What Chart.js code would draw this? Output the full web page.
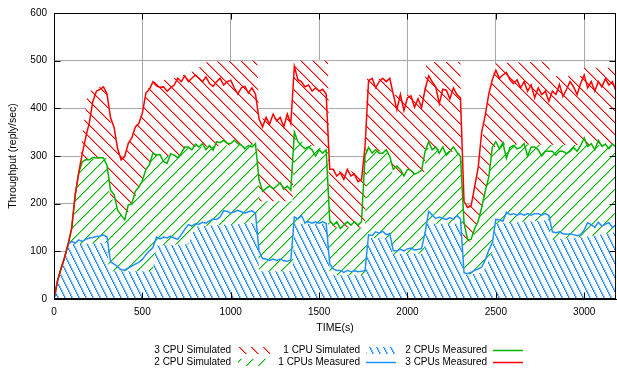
<!DOCTYPE html>
<html><head><meta charset="utf-8">
<script src="https://cdn.jsdelivr.net/npm/chart.js@4.4.0/dist/chart.umd.min.js"></script>
<style>html,body{margin:0;padding:0;background:#fff;}#wrap{width:617px;height:370px;}</style>
</head><body><div id="wrap"><canvas id="c" width="617" height="370"></canvas></div>
<script>
// ---- DATA ----
const times = [
0,20,40,60,80,100,120,140,160,180,
200,220,240,260,280,300,320,340,360,380,
400,420,440,460,480,500,520,540,560,580,
600,620,640,660,680,700,720,740,760,780,
800,820,840,860,880,900,920,940,960,980,
1000,1020,1040,1060,1080,1100,1120,1140,1160,1180,
1200,1220,1240,1260,1280,1300,1320,1340,1360,1380,
1400,1420,1440,1460,1480,1500,1520,1540,1560,1580,
1600,1620,1640,1660,1680,1700,1720,1740,1760,1780,
1800,1820,1840,1860,1880,1900,1920,1940,1960,1980,
2000,2020,2040,2060,2080,2100,2120,2140,2160,2180,
2200,2220,2240,2260,2280,2300,2320,2340,2360,2380,
2400,2420,2440,2460,2480,2500,2520,2540,2560,2580,
2600,2620,2640,2660,2680,2700,2720,2740,2760,2780,
2800,2820,2840,2860,2880,2900,2920,2940,2960,2980,
3000,3020,3040,3060,3080,3100,3120,3140,3160,3180];

const measured3 = [
0,38,64,87,115,148,218,265,305,340,
370,415,436,440,445,430,380,360,315,292,
299,326,338,361,368,390,432,440,456,447,
444,445,436,443,449,463,456,468,456,463,
470,463,456,466,452,446,456,463,449,456,
459,443,430,443,446,432,443,430,378,361,
381,367,388,374,381,361,388,368,488,460,
456,445,449,436,443,436,440,430,272,272,
258,265,251,272,258,262,246,250,320,458,
463,443,456,463,456,463,429,397,429,395,
422,426,402,420,402,440,468,456,445,410,
440,438,420,443,429,422,205,192,195,235,
275,350,385,430,460,480,463,470,475,460,
452,460,443,456,436,449,422,443,429,436,
415,436,429,450,425,440,456,445,429,452,
470,443,456,436,456,445,462,449,456,436];

const measured2 = [
0,38,64,87,115,148,218,265,288,292,
292,297,296,297,296,280,228,219,186,176,
166,197,200,226,235,248,272,282,306,302,
303,288,285,305,302,296,306,319,319,313,
325,319,326,313,322,312,330,328,333,326,
326,333,326,323,315,322,319,326,250,226,
232,237,231,237,244,230,237,228,350,330,
322,315,319,313,300,313,306,313,165,155,
162,148,155,162,155,162,155,162,300,318,
306,313,306,306,313,299,272,279,272,258,
272,270,262,265,270,310,330,313,319,306,
319,302,310,319,308,299,160,124,125,148,
163,192,226,255,318,330,315,328,295,318,
322,315,318,326,300,319,319,313,300,310,
310,310,302,310,310,305,310,318,310,322,
338,320,326,313,333,320,325,315,325,319];

const measured1 = [
0,38,64,87,115,121,117,124,121,125,
128,129,131,132,134,130,78,73,68,61,
61,65,69,73,77,83,93,101,108,130,
126,130,128,132,128,125,135,146,156,153,
158,157,161,159,164,168,167,172,185,184,
180,183,186,183,180,183,185,180,100,85,
84,81,84,81,84,80,79,82,172,168,
175,160,162,159,162,159,162,159,74,63,
60,60,56,60,57,59,57,58,60,135,
133,141,138,142,135,137,101,101,104,101,
105,107,103,104,106,140,184,176,169,172,
169,167,171,167,175,168,55,53,56,60,
63,67,82,102,118,167,166,163,182,177,
179,176,179,176,179,176,179,179,176,179,
175,141,139,141,137,136,137,135,133,135,
145,160,156,150,161,153,157,160,150,156];

const sim3Times = [0,100,140,160,190,300,310,360,390,420,460,500,520,560,700,800,870,1150,1160,1350,1360,1550,1560,1760,1770,1900,1915,2095,2105,2300,2310,2360,2400,2440,2480,2500,2800,2810,2990,3000,3180];
const sim3 = [0,150,265,340,435,450,385,320,292,320,360,390,435,455,465,480,498,500,378,380,500,500,268,268,462,462,428,428,497,497,205,195,262,380,460,495,498,468,468,485,485];

const sim2Times = [0,100,140,160,300,310,360,400,440,480,520,560,700,750,1150,1160,1350,1360,1550,1560,1760,1770,1900,1915,2095,2105,2305,2315,2360,2400,2440,2480,2500,3180];
const sim2 = [0,148,265,292,296,226,185,166,198,232,270,300,300,318,325,205,205,335,312,150,150,315,305,262,262,318,305,125,120,160,220,300,325,322];

const sim1Times = [0,80,100,300,310,560,575,760,800,1150,1160,1350,1360,1550,1560,1765,1775,1900,1915,2095,2105,2305,2315,2420,2440,2480,2495,2800,2810,3000,3180];
const sim1 = [0,108,115,118,58,58,112,115,152,160,58,58,158,158,50,50,128,128,95,95,158,158,50,55,65,100,158,165,125,130,140];

const xTickValues = [0,500,1000,1500,2000,2500,3000];
const yTickValues = [0,100,200,300,400,500,600];

const labels = {
  sim3: '3 CPU Simulated', sim2: '2 CPU Simulated', sim1: '1 CPU Simulated',
  m1: '1 CPUs Measured', m2: '2 CPUs Measured', m3: '3 CPUs Measured'
};
const xAxisTitle = 'TIME(s)';
const yAxisTitle = 'Throughput (reply/sec)';
const xMax = 3180, yMax = 600;

// ---- STYLE ----
const RED = '#ff0000', GREEN = '#00b400', BLUE = '#2090ff';
const FONT = "'Liberation Sans', Arial, sans-serif";

function hatch(rgb, w, h, dir) {
  const c = document.createElement('canvas');
  c.width = w; c.height = h;
  const g = c.getContext('2d');
  g.fillStyle = '#ffffff'; g.fillRect(0, 0, w, h);
  const full = 'rgb(' + rgb.join(',') + ')';
  const soft = 'rgba(' + rgb.join(',') + ',0.45)';
  for (let r = 0; r < h; r++) {
    const xx = Math.floor(r * w / h);
    const px = dir === 'back' ? xx : (w - 1 - xx);
    g.fillStyle = full; g.fillRect(px, r, 1, 1);
    g.fillStyle = soft; g.fillRect((px + 1) % w, r, 1, 1);
  }
  return g.createPattern(c, 'repeat');
}
const patRed = hatch([255, 0, 0], 12, 12, 'back');
const patGreen = hatch([0, 190, 0], 12, 12, 'fwd');
const patBlue = hatch([32, 144, 255], 7, 14, 'back');

const pts = (t, v) => t.map((x, i) => ({x: x, y: v[i]}));

const framePlugin = {
  id: 'frame',
  afterDatasetsDraw(chart) {
    const {ctx, chartArea: a, scales: {x, y}} = chart;
    const L = Math.round(a.left) + 0.5, R = Math.round(a.right) - 0.5;
    const T = Math.round(a.top) + 0.5, B = Math.round(a.bottom) - 0.5;
    ctx.save();
    ctx.strokeStyle = '#000'; ctx.lineWidth = 1;
    ctx.beginPath();
    y.ticks.forEach(t => {
      const p = Math.round(y.getPixelForValue(t.value)) + 0.5;
      ctx.moveTo(L, p); ctx.lineTo(L + 6, p);
      ctx.moveTo(R, p); ctx.lineTo(R - 6, p);
    });
    x.ticks.forEach(t => {
      const p = Math.round(x.getPixelForValue(t.value)) + 0.5;
      ctx.moveTo(p, B); ctx.lineTo(p, B - 6);
      ctx.moveTo(p, T); ctx.lineTo(p, T + 6);
    });
    ctx.stroke();
    ctx.strokeRect(L, T, R - L, B - T);
    ctx.restore();
  }
};

const legendPlugin = {
  id: 'gpLegend',
  afterDraw(chart, args, opts) {
    const {ctx} = chart;
    const byLabel = {};
    chart.data.datasets.forEach(d => byLabel[d.label] = d);
    ctx.save();
    ctx.font = opts.fontSize + 'px ' + FONT;
    ctx.textAlign = 'right';
    ctx.textBaseline = 'middle';
    opts.items.forEach(it => {
      const d = byLabel[it.label];
      const col = opts.cols[it.col], yy = opts.rows[it.row];
      ctx.fillStyle = '#000';
      ctx.fillText(it.label, col.textRight, yy);
      if (d.fill) {
        ctx.fillStyle = d.backgroundColor;
        ctx.fillRect(col.sx, yy - 3, col.sw, 7);
      } else {
        ctx.strokeStyle = d.borderColor; ctx.lineWidth = 1.5;
        ctx.beginPath(); ctx.moveTo(col.sx, yy + 0.5); ctx.lineTo(col.sx + col.sw, yy + 0.5); ctx.stroke();
      }
    });
    ctx.restore();
  }
};

Chart.defaults.font.family = FONT;
Chart.defaults.color = '#000';

new Chart(document.getElementById('c'), {
  type: 'line',
  data: {
    datasets: [
      {label: labels.m3, data: pts(times, measured3), borderColor: RED, borderWidth: 1.5, pointRadius: 0, fill: false, order: 0},
      {label: labels.m2, data: pts(times, measured2), borderColor: GREEN, borderWidth: 1.5, pointRadius: 0, fill: false, order: 1},
      {label: labels.m1, data: pts(times, measured1), borderColor: BLUE, borderWidth: 1.5, pointRadius: 0, fill: false, order: 2},
      {label: labels.sim1, data: pts(sim1Times, sim1), borderColor: 'rgba(0,0,0,0)', borderWidth: 0, backgroundColor: patBlue, pointRadius: 0, fill: 'origin', order: 3},
      {label: labels.sim2, data: pts(sim2Times, sim2), borderColor: 'rgba(0,0,0,0)', borderWidth: 0, backgroundColor: patGreen, pointRadius: 0, fill: 'origin', order: 4},
      {label: labels.sim3, data: pts(sim3Times, sim3), borderColor: 'rgba(0,0,0,0)', borderWidth: 0, backgroundColor: patRed, pointRadius: 0, fill: 'origin', order: 5}
    ]
  },
  options: {
    responsive: false,
    animation: false,
    devicePixelRatio: 1,
    layout: {padding: {left: 0, right: 1, top: 7, bottom: 0}},
    elements: {line: {tension: 0}},
    plugins: {
      legend: {display: false},
      tooltip: {enabled: false},
      gpLegend: {
        fontSize: 10,
        rows: [350, 362],
        cols: [{textRight: 231, sx: 238, sw: 32}, {textRight: 360, sx: 366, sw: 30}, {textRight: 487, sx: 493, sw: 30}],
        items: [
          {label: labels.sim3, col: 0, row: 0}, {label: labels.sim2, col: 0, row: 1},
          {label: labels.sim1, col: 1, row: 0}, {label: labels.m1, col: 1, row: 1},
          {label: labels.m2, col: 2, row: 0}, {label: labels.m3, col: 2, row: 1}
        ]
      }
    },
    scales: {
      x: {
        type: 'linear', min: 0, max: xMax,
        afterBuildTicks: s => { s.ticks = xTickValues.map(v => ({value: v})); },
        ticks: {padding: 7, maxRotation: 0, autoSkip: false,
                font: {size: 10}, color: '#000', callback: v => String(v)},
        grid: {color: '#a8a8a8', drawTicks: false, lineWidth: 1},
        border: {color: '#000', width: 1},
        title: {display: true, text: xAxisTitle, font: {size: 10.5}, color: '#000', padding: {top: 0, bottom: 36}},
        afterFit: s => { s.height = 71; }
      },
      y: {
        type: 'linear', min: 0, max: yMax,
        afterBuildTicks: s => { s.ticks = yTickValues.map(v => ({value: v})); },
        ticks: {padding: 7, font: {size: 10}, color: '#000', callback: v => String(v)},
        grid: {color: '#a8a8a8', drawTicks: false, lineWidth: 1},
        border: {color: '#000', width: 1},
        title: {display: true, text: yAxisTitle, font: {size: 10.5}, color: '#000', padding: {top: 7, bottom: 0}},
        afterFit: s => { s.width = 54; }
      }
    }
  },
  plugins: [framePlugin, legendPlugin]
});
</script>
</body></html>
